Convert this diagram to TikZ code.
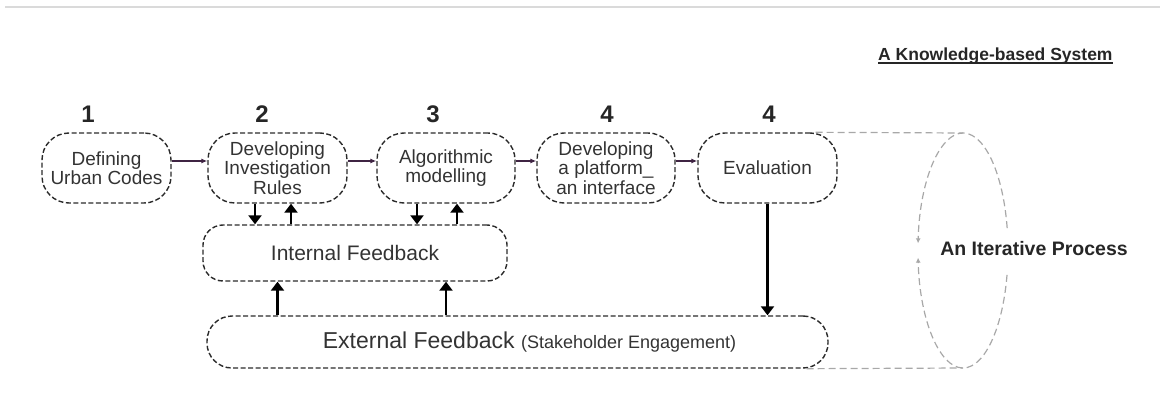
\documentclass[tikz,border=0pt]{standalone}
\usepackage{fontspec}
\setmainfont{Liberation Sans}
\usetikzlibrary{arrows.meta,calc}

\definecolor{ink}{HTML}{2B2B2B}
\definecolor{txt}{HTML}{333333}
\definecolor{flow}{HTML}{3F2443}
\definecolor{loopgray}{HTML}{A8A8A8}
\definecolor{rulegray}{HTML}{DADADA}

\begin{document}
\begin{tikzpicture}[x=1pt,y=1pt,
  stage/.style={draw=ink, line width=1.4pt, dash pattern=on 5pt off 2.5pt,
    rounded corners=27pt, minimum height=70pt, align=center, text=txt,
    font=\fontsize{19}{19.5}\selectfont, inner sep=0pt},
  fb/.style={draw=ink, line width=1.4pt, dash pattern=on 5pt off 2.5pt,
    text=txt, inner sep=0pt},
  flowarrow/.style={draw=flow, line width=1.2pt, -{Latex[length=6pt,width=5pt]}},
  feed/.style={draw=black, line width=2.6pt, -{Triangle[length=9pt,width=13pt]}},
  num/.style={font=\fontsize{24}{24}\bfseries\selectfont, text=black!85},
  loopline/.style={draw=loopgray, line width=1.2pt, dash pattern=on 7pt off 4pt},
  looptip/.style={-{Latex[length=5pt,width=5pt]}},
]

\useasboundingbox (0,0) rectangle (1160,392);
\draw[rulegray, line width=1.5pt] (5,385) -- (1160,385);

% heading
\node[anchor=base west, inner sep=0pt, text=black!85,
      font=\fontsize{17.5}{17.5}\bfseries\selectfont] (title) at (878,331.5)
      {A Knowledge-based System};
\draw[black!85, line width=1.4pt] ([yshift=-2.5pt]title.base west) -- ([yshift=-2.5pt]title.base east);

% stage numbers
\node[num] (n1) at (88,278) {1};
\node[num] (n2) at (262,278) {2};
\node[num] (n3) at (433,278) {3};
\node[num] (n4) at (607,278) {4};
\node[num] (n5) at (769,278) {4};

% stages
\node[stage, minimum width=129pt] (b1) at (106.5,224) {Defining\\Urban Codes};
\node[stage, minimum width=139pt] (b2) at (277.5,224) {Developing\\Investigation\\Rules};
\node[stage, minimum width=138pt] (b3) at (446,224) {Algorithmic\\modelling};
\node[stage, minimum width=138pt] (b4) at (606,224) {Developing\\a platform\_\\an interface};
\node[stage, minimum width=139pt] (b5) at (767.5,224) {Evaluation};

% feedback loops
\node[fb, minimum width=304pt, minimum height=56pt, rounded corners=20pt,
      font=\fontsize{21}{21}\selectfont] (int) at (355,139) {Internal Feedback};
\node[fb, minimum width=621pt, minimum height=52pt, rounded corners=25pt,
      font=\fontsize{23}{23}\selectfont] (ext) at (517.5,50)
      {\hspace*{24pt}External Feedback {\fontsize{18}{18}\selectfont(Stakeholder Engagement)}};

% stage sequence
\draw[flowarrow] ([yshift=7pt]b1.east) -- ([yshift=7pt]b2.west);
\draw[flowarrow] ([yshift=7pt]b2.east) -- ([yshift=7pt]b3.west);
\draw[flowarrow] ([yshift=7pt]b3.east) -- ([yshift=7pt]b4.west);
\draw[flowarrow] ([yshift=7pt]b4.east) -- ([yshift=7pt]b5.west);

% stage <-> internal feedback
\draw[feed] ([xshift=-22.5pt]b2.south) -- ([xshift=-22.5pt]b2.south |- int.north);
\draw[feed] ([xshift=13.5pt]b2.south |- int.north) -- ([xshift=13.5pt]b2.south);
\draw[feed] ([xshift=-29pt]b3.south) -- ([xshift=-29pt]b3.south |- int.north);
\draw[feed] ([xshift=11pt]b3.south |- int.north) -- ([xshift=11pt]b3.south);

% external feedback
\draw[feed] (b2.south |- ext.north) -- (b2.south |- int.south);
\draw[feed] (b3.south |- ext.north) -- (b3.south |- int.south);
\draw[feed] (b5.south) -- (b5.south |- ext.north);

% iteration loop
\coordinate (loop) at (963,141.5);
\coordinate (looptop) at (963,259);
\coordinate (loopbot) at (963,24);
\draw[loopline] ([xshift=-22pt]b5.north east) -- (looptop);
\draw[loopline] ([xshift=-22pt]ext.south east) -- (loopbot);
\draw[loopline, looptip] ($(loop)+(11:45pt and 117.5pt)$)
   arc[start angle=11, end angle=176.5, x radius=45pt, y radius=117.5pt];
\draw[loopline, looptip] ($(loop)+(-12:45pt and 117.5pt)$)
   arc[start angle=-12, end angle=-176.5, x radius=45pt, y radius=117.5pt];
\node[font=\fontsize{19.5}{19.5}\bfseries\selectfont, text=black!85] (iter)
   at (1034,143) {An Iterative Process};
\end{tikzpicture}
\end{document}
